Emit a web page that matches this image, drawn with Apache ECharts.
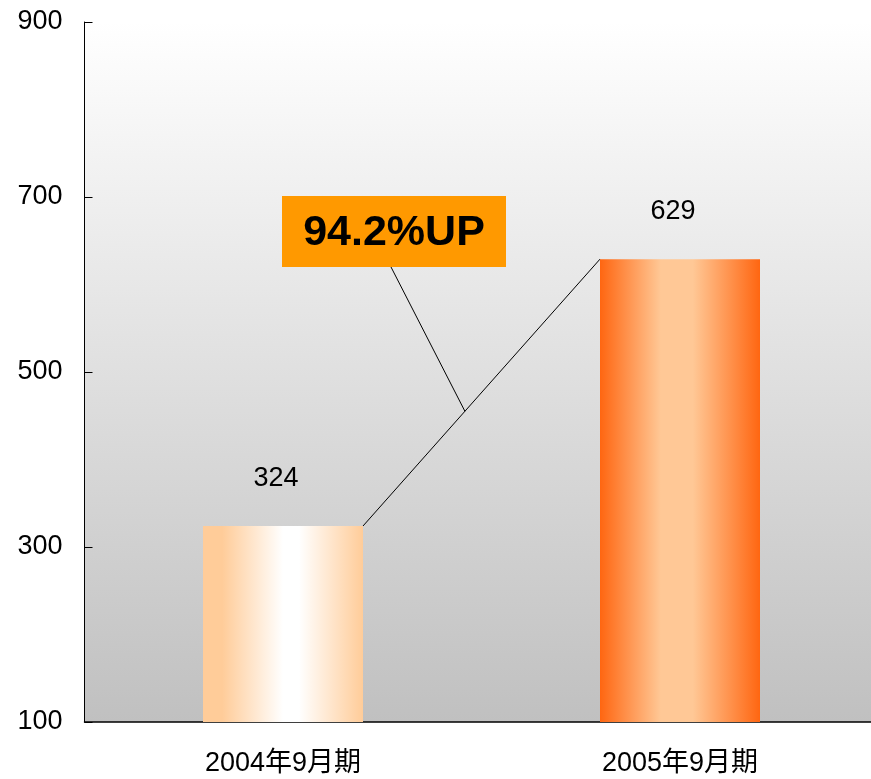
<!DOCTYPE html>
<html>
<head>
<meta charset="utf-8">
<script src="https://cdn.jsdelivr.net/npm/echarts@6/dist/echarts.min.js"></script>
<style>
  html, body { margin: 0; padding: 0; background: #fff; }
  #chart { width: 871px; height: 779px; }
</style>
</head>
<body>
<div id="chart"></div>
<script>
// 数据
var categories = ['2004年9月期', '2005年9月期'];
var values = [324, 629];
var yTicks = [100, 300, 500, 700, 900];
var growthText = '94.2%UP';

var font = 'Liberation Sans, Arial, Noto Sans CJK SC, sans-serif';

var myChart = echarts.init(document.getElementById('chart'));

function barColor(stops) {
    return new echarts.graphic.LinearGradient(0, 0, 1, 0, stops.map(function (s) {
        return {offset: s[0], color: s[1]};
    }));
}

myChart.setOption({
    animation: false,
    grid: {
        left: 84.5, top: 22, width: 794, height: 700,
        outerBoundsMode: 'none',
        show: true,
        borderWidth: 0,
        backgroundColor: new echarts.graphic.LinearGradient(0, 0, 0, 1, [
            {offset: 0, color: '#ffffff'},
            {offset: 1, color: '#c0c0c0'}
        ])
    },
    xAxis: {
        type: 'category',
        data: categories,
        axisLine: {lineStyle: {color: '#000', width: 1.5}},
        axisTick: {inside: true, length: 7, lineStyle: {color: '#000', width: 1.5}},
        axisLabel: {color: '#000', fontSize: 27, fontFamily: font, margin: 28}
    },
    yAxis: {
        type: 'value',
        min: 100,
        max: 900,
        splitLine: {show: false},
        axisLine: {show: true, lineStyle: {color: '#000'}},
        axisTick: {show: true, inside: true, length: 8, lineStyle: {color: '#000'}, customValues: yTicks},
        axisLabel: {color: '#000', fontSize: 27, fontFamily: font, margin: 22, customValues: yTicks}
    },
    series: [{
        type: 'bar',
        barWidth: 160,
        data: [
            {value: values[0], itemStyle: {color: barColor([[0, '#ffcc99'], [0.12, '#ffcc99'], [0.5, '#ffffff'], [0.6, '#ffffff'], [1, '#ffcc99']])}},
            {value: values[1], itemStyle: {color: barColor([[0, '#ff6611'], [0.38, '#ffc896'], [0.58, '#ffc896'], [1, '#ff6611']])}}
        ],
        label: {
            show: true,
            position: 'top',
            distance: 34,
            offset: [-7, 0],
            color: '#000',
            fontSize: 27,
            fontFamily: font
        }
    }]
});

// 增长标注：连接两根柱子的顶部
var halfBar = 80;
var p1 = myChart.convertToPixel({seriesIndex: 0}, [0, values[0]]);
var p2 = myChart.convertToPixel({seriesIndex: 0}, [1, values[1]]);
var a = [p1[0] + halfBar, p1[1]];
var b = [p2[0] - halfBar, p2[1]];
var t = 0.43;
var mid = [a[0] + (b[0] - a[0]) * t, a[1] + (b[1] - a[1]) * t];

myChart.setOption({
    graphic: [
        {type: 'line', shape: {x1: a[0], y1: a[1], x2: b[0], y2: b[1]}, style: {stroke: '#000', lineWidth: 1}},
        {type: 'line', shape: {x1: 391, y1: 267, x2: mid[0], y2: mid[1]}, style: {stroke: '#000', lineWidth: 1}},
        {type: 'rect', shape: {x: 282, y: 196, width: 224, height: 71}, style: {fill: '#ff9900'}},
        {
            type: 'text', x: 394, y: 233,
            style: {
                text: growthText, fill: '#000', fontSize: 43, fontWeight: 'bold',
                fontFamily: font, align: 'center', verticalAlign: 'middle'
            }
        }
    ]
});
</script>
</body>
</html>
